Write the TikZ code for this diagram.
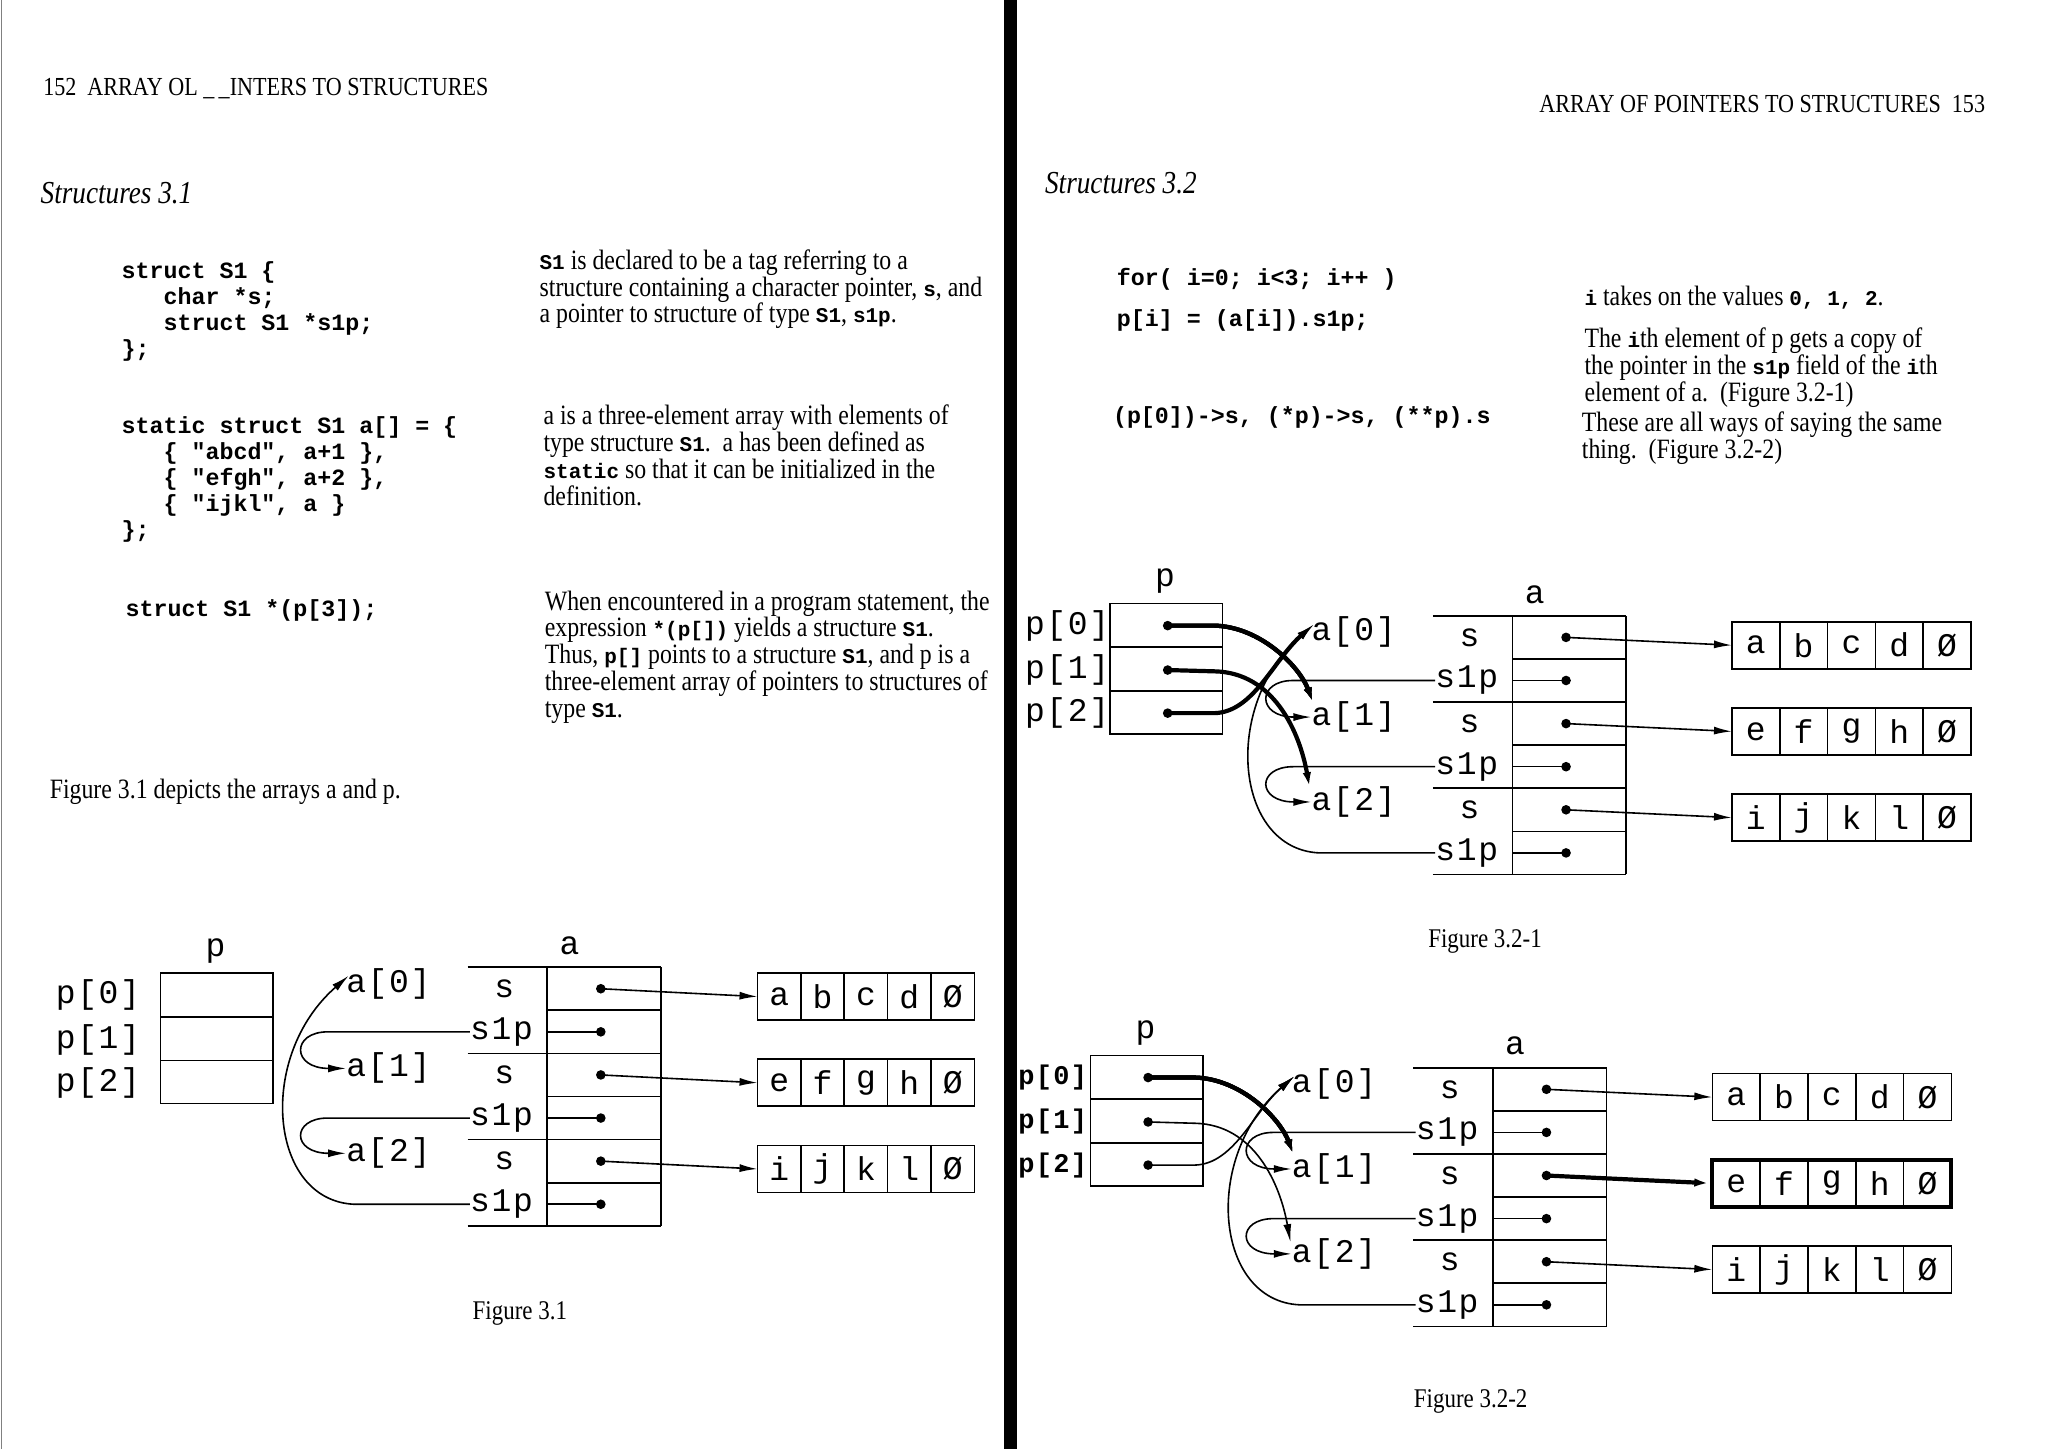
\documentclass[tikz,border=0pt]{standalone}
\usepackage{fontspec}
\setmainfont{Liberation Serif}
\setmonofont{Liberation Mono}
\newfontfamily\bk[FakeStretch=0.85]{Liberation Serif}
\newfontfamily\dm[LetterSpace=5]{Liberation Mono}
\newcommand\tc[1]{{\fontsize{21}{21}\selectfont\ttfamily\bfseries #1}}
\usetikzlibrary{arrows.meta}
\tikzset{
  lbl/.style={font=\fontsize{33}{33}\selectfont\dm, inner sep=0pt},
  plab/.style={lbl},
  alab/.style={lbl, anchor=west},
  ln/.style={line width=1.6pt},
  thk/.style={line width=4.2pt},
  arr/.style={-{Latex[length=18pt,width=8pt]}},
  body/.style={font=\fontsize{28}{26.8}\selectfont\bk, anchor=north west, align=left, inner sep=0pt},
  code/.style={font=\fontsize{23.3}{26}\selectfont\ttfamily\bfseries, anchor=north west, align=left, inner sep=0pt},
  figcap/.style={font=\fontsize{27}{27}\selectfont\bk, inner sep=0pt},
  hdr/.style={font=\fontsize{26}{26}\selectfont\bk, inner sep=0pt},
  ttl/.style={font=\fontsize{32}{32}\selectfont\bk\itshape, anchor=west, inner sep=0pt},
}
\newcommand\dotat[1]{\fill (#1) circle[radius=4.8pt];}
% name, x, y, cell width, letters
\newcommand\strbox[5]{%
  \coordinate (#1) at (#2,#3);
  \foreach \ch [count=\k from 0] in {#5} {
    \draw[ln] (#2+\k*#4,#3-18) rectangle ++(#4,36);
    \node[lbl] (#1c\k) at (#2+\k*#4+#4/2,#3) {\ch};
  }}
\newcommand\ptab[2]{%
  \node[lbl] (#1plbl) at (892,445) {p};
  \draw[ln] (850,462) rectangle (936,562);
  \draw[ln] (850,495.5) -- (936,495.5) (850,529) -- (936,529);
  \node[plab] (#1p0) at (#2,479) {p[0]};
  \node[plab] (#1p1) at (#2,513) {p[1]};
  \node[plab] (#1p2) at (#2,546) {p[2]};
  \coordinate (#1d0) at (894,479);
  \coordinate (#1d1) at (894,513);
  \coordinate (#1d2) at (894,546);}
\newcommand\atab[3]{%
  \node[lbl] (#1alb) at (1175,455) {a};
  \node[alab] (#1a0) at (1004,484) {a[0]};
  \node[alab] (#1a1) at (1004,549) {a[1]};
  \node[alab] (#1a2) at (1004,614) {a[2]};
  \coordinate (#1t0) at (1006,478);
  \coordinate (#1t1) at (1006,540);
  \coordinate (#1t2) at (1003,605);
  \draw[ln] (1158,471.5) -- (1158,669.5) (1245,471.5) -- (1245,669.5);
  \foreach \k in {0,2,4,6} \draw[ln] (1097,471.5+33*\k) -- (1245,471.5+33*\k);
  \foreach \k in {1,3,5} \draw[ln] (1158,471.5+33*\k) -- (1245,471.5+33*\k);
  \node[lbl] (#1s0) at (1125,488) {s};
  \node[lbl] (#1s1) at (1125,554) {s};
  \node[lbl] (#1s2) at (1125,620) {s};
  \node[lbl] (#1q0) at (1123,521) {s1p};
  \node[lbl] (#1q1) at (1123,587) {s1p};
  \node[lbl] (#1q2) at (1123,653) {s1p};
  \foreach \k/\yy in {0/488,1/554,2/620} {\coordinate (#1e\k) at (1199,\yy); \dotat{#1e\k}}
  \foreach \k/\yy in {0/521,1/587,2/653} {\coordinate (#1f\k) at (1199,\yy); \coordinate (#1g\k) at (1158,\yy);
     \draw[ln] (#1g\k) -- (#1f\k); \dotat{#1f\k}}
  \strbox{#1b0}{#2}{494}{#3}{a,b,c,d,\O}
  \strbox{#1b1}{#2}{560}{#3}{e,f,g,h,\O}
  \strbox{#1b2}{#2}{626}{#3}{i,j,k,l,\O}
  \draw[ln,arr] (#1e0) -- (#1b0);
  \draw[ln,arr] (#1e2) -- (#1b2);
  \draw[ln,arr] (#1q0.west) -- (990,521) .. controls (962,521) and (962,549) .. (#1a1.west);
  \draw[ln,arr] (#1q1.west) -- (990,587) .. controls (962,587) and (962,614) .. (#1a2.west);
  \draw[ln,arr] (#1q2.west) -- (1010,653) .. controls (945,650) and (935,540) .. (#1t0);}
\begin{document}
\begin{tikzpicture}[x=1.306pt,y=-1.306pt]
\useasboundingbox (0,0) rectangle (1568,1109);
\fill[white] (0,0) rectangle (1568,1109);
\fill (769,0) rectangle (779,1109);
\draw[line width=1pt,gray] (1,0) -- (1,1109);
% ---------- left page text
\node[hdr, anchor=west] (hl) at (33,68) {152\ \ ARRAY OL \_\,\_INTERS TO STRUCTURES};
\node[ttl] (st1) at (31,148) {Structures 3.1};
\node[code] (c1) at (93,200) {struct S1 \{\\\phantom{xxx}char *s;\\\phantom{xxx}struct S1 *s1p;\\\};};
\node[body] (d1) at (413,191) {\tc{S1} is declared to be a tag referring to a\\structure containing a character pointer, \tc{s}, and\\a pointer to structure of type \tc{S1}, \tc{s1p}.};
\node[code] (c2) at (93,319) {static struct S1 a[] = \{\\\phantom{xxx}\{ "abcd", a+1 \},\\\phantom{xxx}\{ "efgh", a+2 \},\\\phantom{xxx}\{ "ijkl", a \}\\\};};
\node[body] (d2) at (416,310) {a is a three-element array with elements of\\type structure \tc{S1}.\ \ a has been defined as\\\tc{static} so that it can be initialized in the\\definition.};
\node[code] (c3) at (96,459) {struct S1 *(p[3]);};
\node[body] (d3) at (417,452) {When encountered in a program statement, the\\expression \tc{*(p[])} yields a structure \tc{S1}.\\Thus, \tc{p[]} points to a structure \tc{S1}, and p is a\\three-element array of pointers to structures of\\type \tc{S1}.};
\node[body] (d4) at (38,596) {Figure 3.1 depicts the arrays a and p.};
\node[figcap] (f1) at (398,1006) {Figure 3.1};
% ---------- right page text
\node[hdr, anchor=east] (hr) at (1520,80) {ARRAY OF POINTERS TO STRUCTURES\ \ 153};
\node[ttl] (st2) at (800,140) {Structures 3.2};
\node[code] (c4) at (855,205) {for( i=0; i<3; i++ )};
\node[code] (c5) at (855,237) {p[i] = (a[i]).s1p;};
\node[code] (c6) at (852,311) {(p[0])->s, (*p)->s, (**p).s};
\node[body] (d5) at (1213,219) {\tc{i} takes on the values \tc{0, 1, 2}.};
\node[body,font=\fontsize{28}{25.5}\selectfont\bk] (d6) at (1213,251) {The \tc{i}th element of p gets a copy of\\the pointer in the \tc{s1p} field of the \tc{i}th\\element of a.\ \ (Figure 3.2-1)};
\node[body] (d7) at (1211,315) {These are all ways of saying the same\\thing.\ \ (Figure 3.2-2)};
\node[figcap] (f2) at (1137,721) {Figure 3.2-1};
\node[figcap] (f3) at (1126,1073) {Figure 3.2-2};
% ---------- Figure 3.1
\begin{scope}[shift={(-727,283)}]
  \ptab{A}{802}
\end{scope}
\begin{scope}[shift={(-739,269)}]
  \atab{B}{1319}{33.2}
  \draw[ln,arr] (Be1) -- (Bb1);
\end{scope}
% ---------- Figure 3.2-1
\begin{scope}
  \ptab{C}{817}
  \atab{C}{1326}{36.6}
  \draw[ln,arr] (Ce1) -- (Cb1);
  \foreach \k in {0,1,2} \dotat{Cd\k}
  \draw[thk,arr] (Cd0) -- (930,479) .. controls (965,480) and (995,510) .. (Ct1);
  \draw[thk,arr] (Cd1) -- (930,514) .. controls (975,515) and (995,560) .. (Ct2);
  \draw[thk,arr] (Cd2) -- (930,546) .. controls (960,545) and (975,505) .. (Ct0);
\end{scope}
% ---------- Figure 3.2-2
\begin{scope}[shift={(-15,346)}, plab/.style={lbl,font=\fontsize{27}{27}\selectfont\dm\bfseries}]
  \ptab{D}{821}
  \atab{D}{1326}{36.6}
  \draw[thk,arr] (De1) -- (Db1);
  \draw[line width=4pt] (1326,542) rectangle (1509,578);
  \foreach \k in {0,1,2} \dotat{Dd\k}
  \draw[thk,arr] (Dd0) -- (930,479) .. controls (965,480) and (995,510) .. (Dt1);
  \draw[ln,arr] (Dd1) -- (930,514) .. controls (975,515) and (995,560) .. (Dt2);
  \draw[ln,arr] (Dd2) -- (930,546) .. controls (960,545) and (975,505) .. (Dt0);
\end{scope}
\end{tikzpicture}
\end{document}
